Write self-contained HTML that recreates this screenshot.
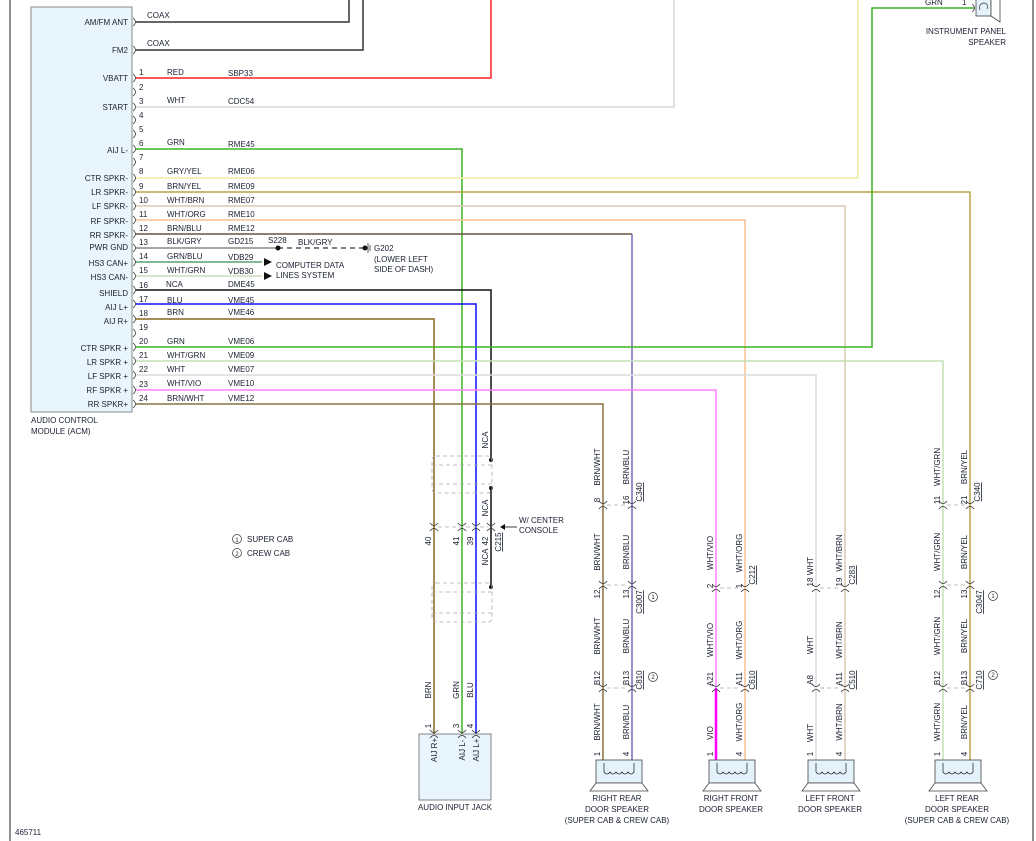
<!DOCTYPE html>
<html><head><meta charset="utf-8"><style>
html,body{margin:0;padding:0;background:#fff}
svg{display:block}
text{font-family:"Liberation Sans",sans-serif;font-size:8px;fill:#1a2030}
</style></head><body>
<svg width="1036" height="841" viewBox="0 0 1036 841" xmlns="http://www.w3.org/2000/svg">
<defs>
<g id="ch"><path d="M-3,-4 Q2,0 -3,4" stroke="#333" fill="none" stroke-width="0.8"/></g>
<g id="cv"><path d="M-4,-4 Q0,1 4,-4 M-4,4 Q0,-1 4,4" stroke="#333" fill="none" stroke-width="0.8"/></g>
<g id="spk"><rect x="0" y="0" width="46" height="23" fill="#e4f2fa" stroke="#444" stroke-width="0.8"/><path d="M8,3 V12 Q11,16 14,12 Q17,16 20,12 Q23,16 26,12 Q29,16 32,12 Q35,16 38,12 V3" fill="none" stroke="#333" stroke-width="0.8"/><polygon points="0,23 46,23 52,31 -6,31" fill="#fff" stroke="#444" stroke-width="0.8"/></g>
</defs>
<line x1="10" y1="0" x2="10" y2="841" stroke="#222" stroke-width="1"/>
<line x1="1033" y1="0" x2="1033" y2="841" stroke="#222" stroke-width="1"/>
<rect x="31" y="7" width="101" height="405" fill="#e8f5fc" stroke="#888" stroke-width="1"/>
<g text-anchor="end">
<text x="128" y="25">AM/FM ANT</text><text x="128" y="53">FM2</text><text x="128" y="81">VBATT</text><text x="128" y="110">START</text><text x="128" y="153">AIJ L-</text><text x="128" y="181">CTR SPKR-</text><text x="128" y="195">LR SPKR-</text><text x="128" y="209">LF SPKR-</text><text x="128" y="224">RF SPKR-</text><text x="128" y="238">RR SPKR-</text><text x="128" y="250">PWR GND</text><text x="128" y="266">HS3 CAN+</text><text x="128" y="280">HS3 CAN-</text><text x="128" y="296">SHIELD</text><text x="128" y="310">AIJ L+</text><text x="128" y="324">AIJ R+</text><text x="128" y="351">CTR SPKR +</text><text x="128" y="365">LR SPKR +</text><text x="128" y="379">LF SPKR +</text><text x="128" y="393">RF SPKR +</text><text x="128" y="407">RR SPKR+</text>
</g>
<text x="31" y="423">AUDIO CONTROL</text><text x="31" y="434">MODULE (ACM)</text>
<g fill="none" stroke-width="1.5">
<path d="M136,22 H349 V0" stroke="#333"/>
<path d="M136,50 H363 V0" stroke="#333"/>
<path d="M136,78 H491 V0" stroke="#ff2020"/>
<path d="M136,107 H674 V0" stroke="#d8d8d8"/>
<path d="M136,149 H462 V735" stroke="#3cb424"/>
<path d="M136,178 H858 V0" stroke="#f2eaa0"/>
<path d="M136,192 H970 V760" stroke="#b8a448"/>
<path d="M136,206 H845 V760" stroke="#d8c8b0"/>
<path d="M136,220 H745 V760" stroke="#f8c090"/>
<path d="M136,234 H632" stroke="#6b5040"/>
<path d="M632,234 V760" stroke="#7a6ab8"/>
<path d="M136,248 H278" stroke="#888"/>
<path d="M136,262 H262" stroke="#5aa070"/>
<path d="M136,276 H262" stroke="#c8dcc0"/>
<path d="M136,290 H491 V460" stroke="#111"/>
<path d="M136,304 H476 V735" stroke="#1010ff"/>
<path d="M136,319 H434 V735" stroke="#86661e"/>
<path d="M136,347 H872 V8 H974" stroke="#3cb424"/>
<path d="M136,361 H943 V760" stroke="#c4e0b4"/>
<path d="M136,375 H816 V760" stroke="#dcdcdc"/>
<path d="M136,390 H716 V688" stroke="#ff80ff"/>
<path d="M716,688 V760" stroke="#ff00ff" stroke-width="2.5"/>
<path d="M136,404 H603 V760" stroke="#8a7040"/>
<path d="M491,488 V587" stroke="#111"/>
</g>
<line x1="278" y1="248" x2="365" y2="248" stroke="#333" stroke-width="1.2" stroke-dasharray="5,4"/>
<circle cx="278" cy="248" r="2.5" fill="#111"/><circle cx="365" cy="248" r="2.5" fill="#111"/>
<path d="M368,243 V253 M370,245 V251" stroke="#333" stroke-width="0.8"/>
<circle cx="491" cy="460" r="2" fill="#111"/><circle cx="491" cy="488" r="2" fill="#111"/><circle cx="491" cy="587" r="2" fill="#111"/>
<polygon points="264,258 272,262 264,266" fill="#111"/><polygon points="264,272 272,276 264,280" fill="#111"/>
<g>
<use href="#ch" x="136" y="22"/><use href="#ch" x="136" y="50"/><use href="#ch" x="136" y="78"/><use href="#ch" x="136" y="92"/><use href="#ch" x="136" y="107"/><use href="#ch" x="136" y="120"/><use href="#ch" x="136" y="134"/><use href="#ch" x="136" y="149"/><use href="#ch" x="136" y="162"/><use href="#ch" x="136" y="178"/><use href="#ch" x="136" y="192"/><use href="#ch" x="136" y="206"/><use href="#ch" x="136" y="220"/><use href="#ch" x="136" y="234"/><use href="#ch" x="136" y="248"/><use href="#ch" x="136" y="262"/><use href="#ch" x="136" y="276"/><use href="#ch" x="136" y="290"/><use href="#ch" x="136" y="304"/><use href="#ch" x="136" y="319"/><use href="#ch" x="136" y="333"/><use href="#ch" x="136" y="347"/><use href="#ch" x="136" y="361"/><use href="#ch" x="136" y="375"/><use href="#ch" x="136" y="390"/><use href="#ch" x="136" y="404"/>
</g>
<g>
<text x="147" y="18">COAX</text><text x="147" y="46">COAX</text>
<text x="139" y="75">1</text><text x="167" y="75">RED</text><text x="228" y="76">SBP33</text>
<text x="139" y="90">2</text>
<text x="139" y="104">3</text><text x="167" y="103">WHT</text><text x="228" y="104">CDC54</text>
<text x="139" y="118">4</text><text x="139" y="132">5</text>
<text x="139" y="146">6</text><text x="167" y="145">GRN</text><text x="228" y="147">RME45</text>
<text x="139" y="160">7</text>
<text x="139" y="174">8</text><text x="167" y="174">GRY/YEL</text><text x="228" y="174">RME06</text>
<text x="139" y="189">9</text><text x="167" y="189">BRN/YEL</text><text x="228" y="189">RME09</text>
<text x="139" y="203">10</text><text x="167" y="203">WHT/BRN</text><text x="228" y="203">RME07</text>
<text x="139" y="217">11</text><text x="167" y="217">WHT/ORG</text><text x="228" y="217">RME10</text>
<text x="139" y="231">12</text><text x="167" y="231">BRN/BLU</text><text x="228" y="231">RME12</text>
<text x="139" y="245">13</text><text x="167" y="244">BLK/GRY</text><text x="228" y="244">GD215</text>
<text x="268" y="243">S228</text><text x="298" y="245">BLK/GRY</text>
<text x="374" y="251">G202</text><text x="374" y="262">(LOWER LEFT</text><text x="374" y="272">SIDE OF DASH)</text>
<text x="139" y="259">14</text><text x="167" y="259">GRN/BLU</text><text x="228" y="260">VDB29</text>
<text x="139" y="273">15</text><text x="167" y="273">WHT/GRN</text><text x="228" y="274">VDB30</text>
<text x="276" y="268">COMPUTER DATA</text><text x="276" y="278">LINES SYSTEM</text>
<text x="139" y="288">16</text><text x="166" y="287">NCA</text><text x="228" y="287">DME45</text>
<text x="139" y="302">17</text><text x="167" y="303">BLU</text><text x="228" y="303">VME45</text>
<text x="139" y="316">18</text><text x="167" y="315">BRN</text><text x="228" y="315">VME46</text>
<text x="139" y="330">19</text>
<text x="139" y="344">20</text><text x="167" y="344">GRN</text><text x="228" y="344">VME06</text>
<text x="139" y="358">21</text><text x="167" y="358">WHT/GRN</text><text x="228" y="358">VME09</text>
<text x="139" y="372">22</text><text x="167" y="372">WHT</text><text x="228" y="372">VME07</text>
<text x="139" y="387">23</text><text x="167" y="386">WHT/VIO</text><text x="228" y="386">VME10</text>
<text x="139" y="401">24</text><text x="167" y="401">BRN/WHT</text><text x="228" y="401">VME12</text>
</g>
<text x="925" y="5">GRN</text><text x="962" y="5">1</text>
<use href="#ch" x="975" y="8"/>
<rect x="976" y="-2" width="15" height="18" fill="#e4f2fa" stroke="#444" stroke-width="0.8"/>
<path d="M980,10 Q978,4 984,3 Q989,4 987,9" fill="none" stroke="#333" stroke-width="0.7"/>
<polygon points="991,-2 1000,-8 1000,22 991,16" fill="#fff" stroke="#444" stroke-width="0.8"/>
<text x="1006" y="34" text-anchor="end">INSTRUMENT PANEL</text><text x="1006" y="45" text-anchor="end">SPEAKER</text>
<g fill="none" stroke="#aaa" stroke-width="0.8" stroke-dasharray="4,3">
<rect x="432" y="456" width="60" height="37" rx="4"/><line x1="432" y1="484" x2="492" y2="484"/><line x1="432" y1="465" x2="492" y2="465"/>
<rect x="432" y="583" width="60" height="39" rx="4"/><line x1="432" y1="592" x2="492" y2="592"/><line x1="432" y1="613" x2="492" y2="613"/>
</g>
<line x1="438" y1="527" x2="488" y2="527" stroke="#aaa" stroke-width="0.8" stroke-dasharray="4,3"/>
<use href="#cv" x="434" y="527"/><use href="#cv" x="462" y="527"/><use href="#cv" x="476" y="527"/><use href="#cv" x="491" y="527"/>
<path d="M517,527 H503" stroke="#111" stroke-width="0.8"/><polygon points="500,527 505,524 505,530" fill="#111"/>
<text x="519" y="523">W/ CENTER</text><text x="519" y="533">CONSOLE</text>
<g>
<text transform="translate(431,541) rotate(-90)" text-anchor="middle">40</text>
<text transform="translate(459,541) rotate(-90)" text-anchor="middle">41</text>
<text transform="translate(473,541) rotate(-90)" text-anchor="middle">39</text>
<text transform="translate(488,541) rotate(-90)" text-anchor="middle">42</text>
<text transform="translate(501,542) rotate(-90)" text-anchor="middle" text-decoration="underline">C215</text>
<text transform="translate(488,440) rotate(-90)" text-anchor="middle">NCA</text>
<text transform="translate(488,508) rotate(-90)" text-anchor="middle">NCA</text>
<text transform="translate(488,557) rotate(-90)" text-anchor="middle">NCA</text>
<text transform="translate(431,690) rotate(-90)" text-anchor="middle">BRN</text>
<text transform="translate(459,690) rotate(-90)" text-anchor="middle">GRN</text>
<text transform="translate(473,690) rotate(-90)" text-anchor="middle">BLU</text>
<text transform="translate(431,726) rotate(-90)" text-anchor="middle">1</text>
<text transform="translate(459,726) rotate(-90)" text-anchor="middle">3</text>
<text transform="translate(473,726) rotate(-90)" text-anchor="middle">4</text>
</g>
<rect x="419" y="734" width="72" height="66" fill="#e8f5fc" stroke="#666" stroke-width="0.8"/>
<use href="#cv" x="434" y="734"/><use href="#cv" x="462" y="734"/><use href="#cv" x="476" y="734"/>
<text transform="translate(437,750) rotate(-90)" text-anchor="middle">AIJ R+</text>
<text transform="translate(465,750) rotate(-90)" text-anchor="middle">AIJ L-</text>
<text transform="translate(479,750) rotate(-90)" text-anchor="middle">AIJ L+</text>
<text x="455" y="810" text-anchor="middle">AUDIO INPUT JACK</text>
<circle cx="237" cy="539" r="4.5" fill="none" stroke="#333" stroke-width="0.7"/><text x="237" y="542" text-anchor="middle" style="font-size:6px">1</text><text x="247" y="542">SUPER CAB</text>
<circle cx="237" cy="553" r="4.5" fill="none" stroke="#333" stroke-width="0.7"/><text x="237" y="556" text-anchor="middle" style="font-size:6px">2</text><text x="247" y="556">CREW CAB</text>
<text x="15" y="835">465711</text>
<g stroke="#aaa" stroke-width="0.8" stroke-dasharray="4,3">
<line x1="607" y1="505" x2="628" y2="505"/><line x1="607" y1="585" x2="628" y2="585"/><line x1="607" y1="688" x2="628" y2="688"/>
<line x1="720" y1="588" x2="741" y2="588"/><line x1="720" y1="688" x2="741" y2="688"/>
<line x1="820" y1="588" x2="841" y2="588"/><line x1="820" y1="688" x2="841" y2="688"/>
<line x1="947" y1="505" x2="966" y2="505"/><line x1="947" y1="585" x2="966" y2="585"/><line x1="947" y1="688" x2="966" y2="688"/>
</g>
<g>
<use href="#cv" x="603" y="505"/><use href="#cv" x="632" y="505"/><use href="#cv" x="603" y="585"/><use href="#cv" x="632" y="585"/><use href="#cv" x="603" y="688"/><use href="#cv" x="632" y="688"/>
<use href="#cv" x="716" y="588"/><use href="#cv" x="745" y="588"/><use href="#cv" x="716" y="688"/><use href="#cv" x="745" y="688"/>
<use href="#cv" x="816" y="588"/><use href="#cv" x="845" y="588"/><use href="#cv" x="816" y="688"/><use href="#cv" x="845" y="688"/>
<use href="#cv" x="943" y="505"/><use href="#cv" x="970" y="505"/><use href="#cv" x="943" y="585"/><use href="#cv" x="970" y="585"/><use href="#cv" x="943" y="688"/><use href="#cv" x="970" y="688"/>
</g>
<use href="#spk" x="596" y="760"/><use href="#spk" x="709" y="760"/><use href="#spk" x="808" y="760"/><use href="#spk" x="935" y="760"/>
<g text-anchor="middle">
<text x="617" y="801">RIGHT REAR</text><text x="617" y="812">DOOR SPEAKER</text><text x="617" y="823">(SUPER CAB &amp; CREW CAB)</text>
<text x="731" y="801">RIGHT FRONT</text><text x="731" y="812">DOOR SPEAKER</text>
<text x="830" y="801">LEFT FRONT</text><text x="830" y="812">DOOR SPEAKER</text>
<text x="957" y="801">LEFT REAR</text><text x="957" y="812">DOOR SPEAKER</text><text x="957" y="823">(SUPER CAB &amp; CREW CAB)</text>
</g>
<g text-anchor="middle">
<text transform="translate(600,467) rotate(-90)">BRN/WHT</text><text transform="translate(629,467) rotate(-90)">BRN/BLU</text>
<text transform="translate(600,500) rotate(-90)">8</text><text transform="translate(629,500) rotate(-90)">16</text>
<text transform="translate(642,492) rotate(-90)" text-decoration="underline">C340</text>
<text transform="translate(600,552) rotate(-90)">BRN/WHT</text><text transform="translate(629,552) rotate(-90)">BRN/BLU</text>
<text transform="translate(600,594) rotate(-90)">12</text><text transform="translate(629,594) rotate(-90)">13</text>
<text transform="translate(642,602) rotate(-90)" text-decoration="underline">C3007</text>
<text transform="translate(600,636) rotate(-90)">BRN/WHT</text><text transform="translate(629,636) rotate(-90)">BRN/BLU</text>
<text transform="translate(600,678) rotate(-90)">B12</text><text transform="translate(629,678) rotate(-90)">B13</text>
<text transform="translate(642,680) rotate(-90)" text-decoration="underline">C810</text>
<text transform="translate(600,722) rotate(-90)">BRN/WHT</text><text transform="translate(629,722) rotate(-90)">BRN/BLU</text>
<text transform="translate(600,754) rotate(-90)">1</text><text transform="translate(629,754) rotate(-90)">4</text>
<text transform="translate(713,553) rotate(-90)">WHT/VIO</text><text transform="translate(742,553) rotate(-90)">WHT/ORG</text>
<text transform="translate(713,586) rotate(-90)">2</text><text transform="translate(742,586) rotate(-90)">1</text>
<text transform="translate(755,575) rotate(-90)" text-decoration="underline">C212</text>
<text transform="translate(713,640) rotate(-90)">WHT/VIO</text><text transform="translate(742,640) rotate(-90)">WHT/ORG</text>
<text transform="translate(713,679) rotate(-90)">A21</text><text transform="translate(742,679) rotate(-90)">A11</text>
<text transform="translate(755,680) rotate(-90)" text-decoration="underline">C610</text>
<text transform="translate(713,733) rotate(-90)">VIO</text><text transform="translate(742,722) rotate(-90)">WHT/ORG</text>
<text transform="translate(713,754) rotate(-90)">1</text><text transform="translate(742,754) rotate(-90)">4</text>
<text transform="translate(813,566) rotate(-90)">WHT</text><text transform="translate(842,553) rotate(-90)">WHT/BRN</text>
<text transform="translate(813,582) rotate(-90)">18</text><text transform="translate(842,582) rotate(-90)">19</text>
<text transform="translate(855,575) rotate(-90)" text-decoration="underline">C283</text>
<text transform="translate(813,645) rotate(-90)">WHT</text><text transform="translate(842,640) rotate(-90)">WHT/BRN</text>
<text transform="translate(813,680) rotate(-90)">A8</text><text transform="translate(842,679) rotate(-90)">A11</text>
<text transform="translate(855,680) rotate(-90)" text-decoration="underline">C510</text>
<text transform="translate(813,733) rotate(-90)">WHT</text><text transform="translate(842,722) rotate(-90)">WHT/BRN</text>
<text transform="translate(813,754) rotate(-90)">1</text><text transform="translate(842,754) rotate(-90)">4</text>
<text transform="translate(940,467) rotate(-90)">WHT/GRN</text><text transform="translate(967,467) rotate(-90)">BRN/YEL</text>
<text transform="translate(940,500) rotate(-90)">11</text><text transform="translate(967,500) rotate(-90)">21</text>
<text transform="translate(980,492) rotate(-90)" text-decoration="underline">C340</text>
<text transform="translate(940,552) rotate(-90)">WHT/GRN</text><text transform="translate(967,552) rotate(-90)">BRN/YEL</text>
<text transform="translate(940,594) rotate(-90)">12</text><text transform="translate(967,594) rotate(-90)">13</text>
<text transform="translate(982,602) rotate(-90)" text-decoration="underline">C3047</text>
<text transform="translate(940,636) rotate(-90)">WHT/GRN</text><text transform="translate(967,636) rotate(-90)">BRN/YEL</text>
<text transform="translate(940,678) rotate(-90)">B12</text><text transform="translate(967,678) rotate(-90)">B13</text>
<text transform="translate(982,680) rotate(-90)" text-decoration="underline">C710</text>
<text transform="translate(940,722) rotate(-90)">WHT/GRN</text><text transform="translate(967,722) rotate(-90)">BRN/YEL</text>
<text transform="translate(940,754) rotate(-90)">1</text><text transform="translate(967,754) rotate(-90)">4</text>
</g>
<g fill="none" stroke="#333" stroke-width="0.7">
<circle cx="653" cy="597" r="4.5"/><circle cx="653" cy="677" r="4.5"/><circle cx="993" cy="596" r="4.5"/><circle cx="993" cy="675" r="4.5"/>
</g>
<g text-anchor="middle">
<text x="653" y="599" style="font-size:6px">1</text><text x="653" y="679" style="font-size:6px">2</text><text x="993" y="598" style="font-size:6px">1</text><text x="993" y="677" style="font-size:6px">2</text>
</g>
</svg>
</body></html>
